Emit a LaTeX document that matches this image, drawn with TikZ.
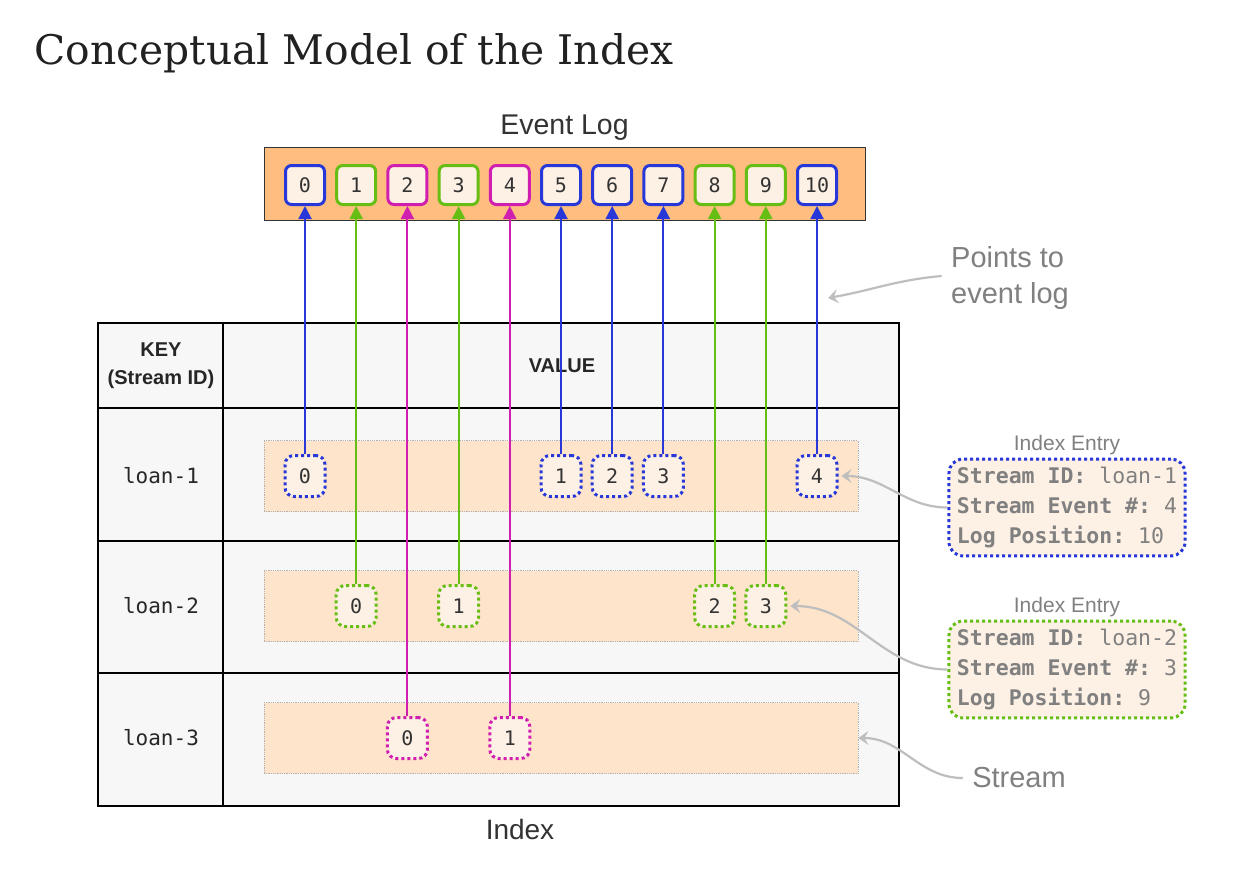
\documentclass[tikz,border=0pt]{standalone}
\usepackage{fontspec}
\setmainfont{Liberation Sans}
\setmonofont{DejaVu Sans Mono}
\newfontfamily\slabfont{DejaVu Serif}
\usepackage{tikz}
\usetikzlibrary{arrows.meta, positioning, calc}
\usepackage{xcolor}

\definecolor{evblue}{RGB}{40,56,216}
\definecolor{evgreen}{RGB}{102,190,20}
\definecolor{evpink}{RGB}{208,30,176}
\definecolor{logfill}{RGB}{255,190,128}
\definecolor{cellfill}{RGB}{253,240,228}
\definecolor{streamfill}{RGB}{253,228,202}
\definecolor{tablefill}{RGB}{247,247,247}
\definecolor{notegray}{RGB}{128,128,128}
\definecolor{hintgray}{RGB}{190,190,190}

\tikzset{
  evcell/.style={draw=#1, line width=3pt, rounded corners=6pt, fill=cellfill,
    minimum size=39pt, inner sep=0pt, text=black!80,
    font=\ttfamily\fontsize{20}{24}\selectfont},
  entry/.style={draw=#1, line width=3pt, dash pattern=on 3pt off 3pt,
    rounded corners=9pt, fill=cellfill, minimum width=40pt, minimum height=41pt,
    inner sep=0pt, text=black!80, font=\ttfamily\fontsize{20}{24}\selectfont},
  streambar/.style={draw=gray!60, densely dotted, line width=0.8pt, fill=streamfill,
    minimum width=594pt, minimum height=71pt},
  ptr/.style={draw=#1, line width=2pt, -{Triangle[width=13pt,length=13pt]}},
  hint/.style={draw=hintgray, line width=2.2pt, -{Stealth[width=14pt,length=10pt,inset=4pt]}},
  note/.style={draw=#1, line width=3pt, dash pattern=on 3pt off 3pt,
    rounded corners=14pt, fill=cellfill, align=left, text=notegray,
    inner xsep=8pt, inner ysep=8pt, font=\ttfamily\fontsize{21.5}{30}\selectfont},
  keytext/.style={font=\ttfamily\fontsize{21}{25}\selectfont, text=black!85},
  graytext/.style={text=notegray, font=\fontsize{29}{36}\selectfont, align=left},
}

\begin{document}
\begin{tikzpicture}[x=1pt,y=-1pt]
  \useasboundingbox[fill=white] (0,0) rectangle (1242,888);
  \node[anchor=base west, text=black!87, font=\slabfont\fontsize{40.8}{46}\selectfont]
    (title) at (31,65) {Conceptual Model of the Index};

  % event log
  \node[draw=black!80, line width=1pt, fill=logfill, minimum width=601pt,
    minimum height=72pt] (evlog) at (564.5,184) {};
  \node[above=4pt of evlog, text=black!80, font=\fontsize{28.5}{32}\selectfont]
    (evlabel) {Event Log};
  \foreach \i/\c in {0/evblue,1/evgreen,2/evpink,3/evgreen,4/evpink,5/evblue,
                     6/evblue,7/evblue,8/evgreen,9/evgreen,10/evblue}
    \node[evcell=\c] (e\i) at ({305+51.2*\i},185) {\i};

  % index
  \draw[fill=tablefill, line width=1.5pt] (98,323) rectangle (899,806);
  \draw[line width=1.5pt] (223,323) -- (223,806)
    (98,408) -- (899,408) (98,541) -- (899,541) (98,673) -- (899,673);
  \node[align=center, text=black!85, font=\bfseries\fontsize{20}{28}\selectfont]
    (keyhead) at (161,366) {KEY\\(Stream ID)};
  \node[text=black!85, font=\bfseries\fontsize{20}{24}\selectfont]
    (valhead) at (562,366) {VALUE};
  \node[text=black!80, font=\fontsize{28}{32}\selectfont] (idxlabel) at (520,829) {Index};

  \foreach \r/\y in {1/476,2/606,3/738} {
    \node[keytext] (key\r) at (161,\y) {loan-\r};
    \node[streambar] (bar\r) at (561,\y) {};
  }

  \foreach \r/\e/\i/\c in {1/0/0/evblue,1/1/5/evblue,1/2/6/evblue,1/3/7/evblue,
      1/4/10/evblue,2/0/1/evgreen,2/1/3/evgreen,2/2/8/evgreen,2/3/9/evgreen,
      3/0/2/evpink,3/1/4/evpink} {
    \node[entry=\c] (l\r-\e) at (e\i |- bar\r) {\e};
    \draw[ptr=\c] (l\r-\e.north) -- (e\i.south);
  }

  % notes
  \node[note=evblue] (n1) at (1067,507.5)
    {\textbf{Stream ID:} loan-1\\\textbf{Stream Event \#:} 4\\\textbf{Log Position:} 10};
  \node[note=evgreen] (n2) at (1067,669.5)
    {\textbf{Stream ID:} loan-2\\\textbf{Stream Event \#:} 3\\\textbf{Log Position:} 9};
  \foreach \n in {n1,n2}
    \node[above=-1pt of \n, text=notegray, font=\fontsize{21}{24}\selectfont] {Index Entry};
  \draw[hint] (n1.west) to[out=180,in=0] ([xshift=3pt]l1-4.east);
  \draw[hint] (n2.west) to[out=180,in=0] ([xshift=3pt]l2-3.east);

  \node[graytext] (ptstext) at (1010,278) {Points to\\event log};
  \coordinate (ptstip) at (828,298);
  \draw[hint] ([xshift=-6pt,yshift=2pt]ptstext.west) to[out=185,in=10] (ptstip);

  \node[graytext] (strtext) at (1019,778) {Stream};
  \draw[hint] ([xshift=-6pt]strtext.west) to[out=180,in=0] (bar3.east);
\end{tikzpicture}
\end{document}
